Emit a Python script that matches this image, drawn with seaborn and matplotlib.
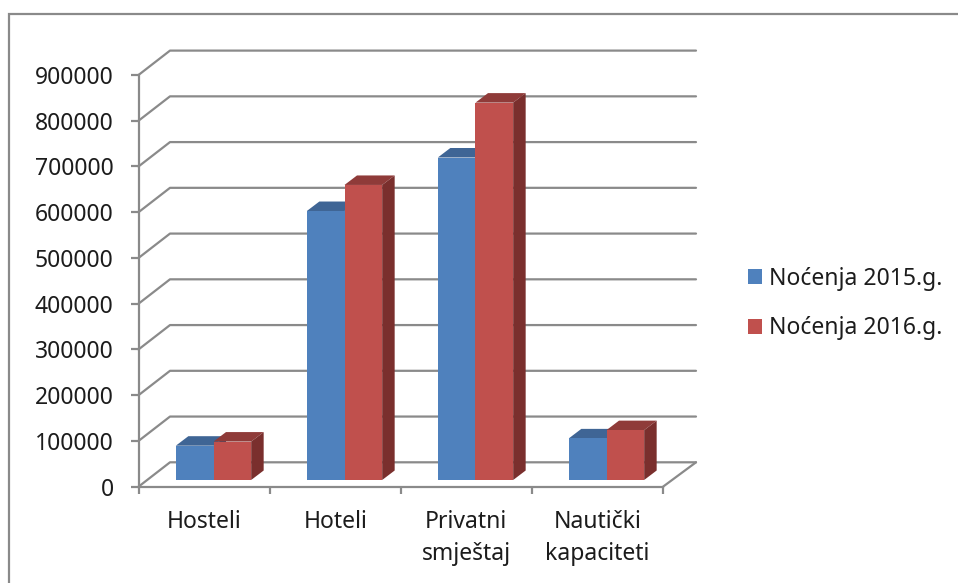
import matplotlib
matplotlib.use("Agg")
import matplotlib.pyplot as plt
from matplotlib.lines import Line2D
from matplotlib.patches import Polygon, Rectangle
import pandas as pd
import seaborn as sns

categories = ["Hosteli", "Hoteli", "Privatni\nsmještaj", "Nautički\nkapaciteti"]
series_2015 = [75000, 588000, 705000, 91000]
series_2016 = [84000, 645000, 825000, 109000]
series_names = ["Noćenja 2015.g.", "Noćenja 2016.g."]
y_ticks = list(range(0, 900001, 100000))
colors = ["#4F81BD", "#C0504D"]
top_colors = ["#3F6595", "#8F3B39"]
side_colors = ["#2F4F75", "#7A2F2D"]
grid_color = "#8A8A8A"

W, H = 958, 583
sns.set_theme(style="white")
plt.rcParams["font.family"] = ["Noto Sans", "DejaVu Sans"]
fig = plt.figure(figsize=(W / 100, H / 100), dpi=100)


def box(x0, x1, y_top, y_bot):
    return [x0 / W, 1 - y_bot / H, (x1 - x0) / W, (y_bot - y_top) / H]


wall = fig.add_axes(box(138.5, 663, 75, 486.7))
bars = fig.add_axes(box(148, 672, 75 - 6.7, 480))
wall.set_xlim(-0.5, 3.5)
wall.set_ylim(0, 900000)

df = pd.DataFrame({
    "kategorija": categories * 2,
    "nocenja": series_2015 + series_2016,
    "serija": [series_names[0]] * 4 + [series_names[1]] * 4,
})
sns.barplot(data=df, x="kategorija", y="nocenja", hue="serija", palette=colors, saturation=1,
            width=0.575, gap=0, ax=bars, linewidth=0, legend=False, zorder=3)
bars.set_xlim(-0.5, 3.5)
bars.set_ylim(0, 900000)
bars.axis("off")
bars.patch.set_alpha(0)

# back wall, left wall and floor of the 3D box
dx, dy = 31.5, 24.4
lw = 1.6
for v in y_ticks:
    x0, y0 = wall.transData.transform((-0.5, v))
    x1, _ = wall.transData.transform((3.5, v))
    xs = [x0, x0 + dx, x1 + dx + 1.5]
    ys = [y0, y0 + dy, y0 + dy]
    fig.add_artist(Line2D([a / W for a in xs], [b / H for b in ys], color=grid_color, lw=lw, zorder=0.5))
x1, y0 = wall.transData.transform((3.5, 0))
fig.add_artist(Line2D([x1 / W, (x1 + dx + 1.5) / W], [y0 / H, (y0 + dy) / H], color=grid_color, lw=lw, zorder=0.5))

# depth faces of each bar, from the bars seaborn drew
ddx, ddy = 12.5, 9.5
n = len(categories)
for i, patch in enumerate(bars.patches[: 2 * n]):
    s = i // n
    (xa, ya), (xb, yb) = patch.get_window_extent().get_points()
    top = [(xa, yb), (xb, yb), (xb + ddx, yb + ddy), (xa + ddx, yb + ddy)]
    side = [(xb, ya), (xb + ddx, ya + ddy), (xb + ddx, yb + ddy), (xb, yb)]
    for pts, col in ((top, top_colors[s]), (side, side_colors[s])):
        fig.add_artist(Polygon([(a / W, b / H) for a, b in pts], closed=True, transform=fig.transFigure,
                               facecolor=col, edgecolor="none", zorder=1))

bars.set_zorder(2)
wall.set_zorder(0)
wall.patch.set_alpha(0)
for name in ("top", "right"):
    wall.spines[name].set_visible(False)
for name in ("left", "bottom"):
    wall.spines[name].set_color(grid_color)
    wall.spines[name].set_linewidth(lw)
    wall.spines[name].set_zorder(0.5)
wall.set_yticks(y_ticks)
wall.set_yticklabels([str(v) for v in y_ticks])
wall.set_xticks(range(n))
wall.set_xticklabels(categories, linespacing=1.45, ha="center", va="top")
wall.set_xticks([-0.5, 0.5, 1.5, 2.5, 3.5], minor=True)
wall.tick_params(axis="y", length=6, width=lw, color=grid_color, pad=12, labelsize=16.5,
                 labelcolor="#1C1C1C", left=True)
wall.tick_params(axis="x", which="major", length=0, pad=17, labelsize=16.5, labelcolor="#1C1C1C")
wall.tick_params(axis="x", which="minor", length=5, width=lw, color=grid_color, bottom=True)
wall.set_xlabel("")
wall.set_ylabel("")

# legend
handles = [Rectangle((0, 0), 1, 1, facecolor=c, edgecolor="none") for c in colors]
fig.legend(handles, series_names, loc="center left", bbox_to_anchor=(748 / W, 1 - 303.5 / H),
           frameon=False, fontsize=16.5, handlelength=0.62, handleheight=0.62, handletextpad=0.3,
           labelspacing=1.12, labelcolor="#1C1C1C", borderpad=0, borderaxespad=0)

# outer chart frame
fig.add_artist(Rectangle((9 / W, -0.01), (W + 20) / W, 1 - 13.5 / H + 0.01, transform=fig.transFigure,
                         facecolor="none", edgecolor="#8A8A8A", lw=1.6, zorder=0.1))

fig.savefig("out.png", dpi=100)
